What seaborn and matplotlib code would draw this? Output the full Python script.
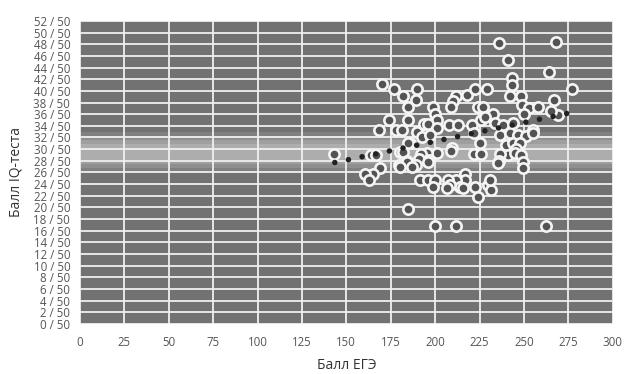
import numpy as np
import pandas as pd
import matplotlib
matplotlib.use("Agg")
import matplotlib.pyplot as plt
import seaborn as sns

# ЕГЭ score (x) and IQ-test score (y)
ege = [236, 268, 241, 264, 243, 243.5, 277, 170, 177, 182, 190, 189, 185, 212, 210, 209,
       218, 222.5, 229, 242, 248.5, 224, 227, 199, 200, 201, 249, 253, 250, 258, 267, 269, 265,
       174, 184.5, 168.6, 178, 181.6, 190, 194, 196, 201, 207.6, 213, 220.6, 226, 232.7, 233.6,
       238.3, 244, 255, 228,
       192.8, 197, 221.6, 236.4, 242, 246.7, 251, 255, 186, 209.5, 225.3, 240, 244, 247.6, 184.8,
       245.7, 241, 244.8, 248.6, 249.5, 249.5, 221.6, 226, 236.4, 236, 235.5, 201, 195.5, 192,
       209, 143, 164, 166.5, 180, 182, 196.5, 191,
       184.4, 179.7, 189, 183.9, 186.7, 180.5, 196, 169, 165, 160.5, 163, 216.7,
       216.7, 212, 214, 191.4, 196, 200, 198.7, 207.3, 208.3, 222.3, 224.2, 229.8, 231.7, 230.8,
       206.4, 215.7,
       185, 200, 211.5, 262.5]
iq = [48.2, 48.3, 45.3, 43.2, 42.2, 41.0, 40.4, 41.2, 40.3, 39.2, 40.3, 38.5, 37.3, 39.2, 38.3, 37.2,
      39.3, 40.3, 40.3, 39.2, 39.2, 37.3, 37.3, 37.3, 36.1, 35.0, 37.5, 37.0, 36.0, 37.3, 38.4, 35.9, 36.5,
      35.0, 35.0, 33.2, 33.2, 33.2, 33.0, 34.3, 34.3, 33.6, 34.2, 34.2, 34.2, 35.0, 36.1, 34.5,
      34.2, 34.4, 33.2, 35.5,
      32.0, 32.5, 32.8, 32.5, 32.7, 32.5, 32.2, 32.7, 31.1, 30.2, 31.1, 30.7, 31.0, 31.0, 31.0,
      30.0, 29.0, 29.3, 29.0, 27.8, 26.7, 29.2, 29.2, 29.2, 28.0, 27.6, 29.4, 29.4, 29.2,
      29.7, 29.2, 29.0, 29.0, 29.5, 29.5, 28.2, 28.3,
      28.0, 27.2, 27.2, 27.8, 26.9, 26.9, 27.8, 26.8, 25.7, 25.7, 24.7, 25.8,
      24.7, 24.7, 23.5, 24.7, 24.7, 24.7, 23.5, 24.7, 23.8, 23.5, 21.8, 23.8, 23.0, 24.7,
      23.3, 23.3,
      19.7, 16.8, 16.8, 16.8]

# linear trend line endpoints
trend_x = [143.5, 277]
trend_y = [27.7, 36.3]

x_ticks = list(range(0, 301, 25))
y_ticks = list(range(0, 53, 2))
y_tick_labels = [f"{v} / 50" for v in y_ticks]

df = pd.DataFrame({"ЕГЭ": ege, "IQ": iq})

sns.set_theme(style="white")
plt.rcParams["font.family"] = ["Open Sans", "DejaVu Sans"]

fig = plt.figure(figsize=(6.24, 3.74), dpi=100)
ax = fig.add_axes([0.128, 0.134, 0.854, 0.810])
ax.set_facecolor("#727272")

# scanner light band
for lo, hi, a in [(26.0, 33.0, 0.12), (26.8, 32.2, 0.15), (27.5, 31.5, 0.18), (28.2, 30.8, 0.2)]:
    ax.axhspan(lo, hi, color="#e8e8e8", alpha=a, lw=0, zorder=0.3)

sns.scatterplot(data=df, x="ЕГЭ", y="IQ", ax=ax, s=55, color="#535353",
                edgecolor="#f4f4f4", linewidth=1.9, zorder=3)
ax.plot(trend_x, trend_y, color="#222222", lw=4.0, linestyle=(0, (0.01, 2.5)),
        dash_capstyle="round", solid_capstyle="round", zorder=4)

ax.set_xlim(0, 300)
ax.set_ylim(0, 52)
ax.set_xticks(x_ticks)
ax.set_yticks(y_ticks)
ax.set_yticklabels(y_tick_labels)
ax.grid(True, color="#f0f0f0", lw=1.3)
ax.set_axisbelow(True)
for sp in ax.spines.values():
    sp.set_visible(False)
ax.tick_params(axis="both", length=0, labelsize=8.3, labelcolor="#555555")
ax.tick_params(axis="x", pad=9)
ax.tick_params(axis="y", pad=7)
ax.set_xlabel("Балл ЕГЭ", fontsize=10, color="#333333", labelpad=6)
ax.set_ylabel("Балл IQ-теста", fontsize=10, color="#333333", labelpad=7)

fig.savefig("out.png", dpi=100)
